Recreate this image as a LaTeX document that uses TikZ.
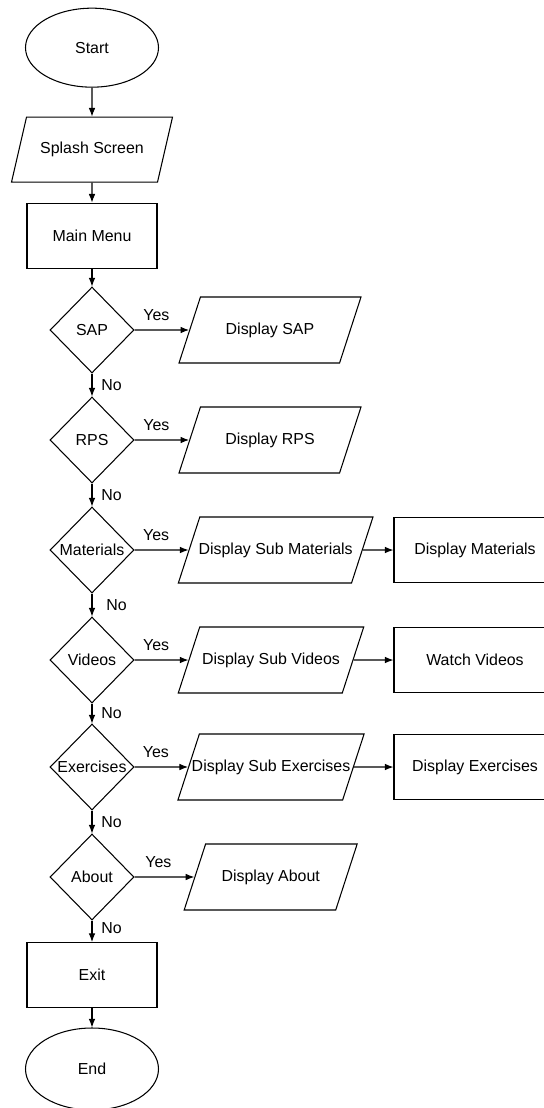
\documentclass[tikz,border=0pt]{standalone}
\usepackage{fontspec}
\setmainfont{Liberation Sans}
\usetikzlibrary{calc}
\usetikzlibrary{shapes.geometric}
\usetikzlibrary{arrows.meta}

\tikzset{
  terminal/.style={draw, ellipse, minimum width=3.99cm, minimum height=2.37cm},
  process/.style={draw, rectangle, minimum width=3.9cm, minimum height=1.95cm},
  io/.style={draw, trapezium, trapezium left angle=72, trapezium right angle=108,
    trapezium stretches body, text height=0.35cm, text depth=0.1cm,
    inner xsep=2pt, inner ysep=0.765cm},
  decision/.style={draw, diamond, minimum width=2.52cm, minimum height=2.58cm, inner sep=0pt},
  flow/.style={-{Latex[length=2.6mm,width=2mm]}},
}

\begin{document}
\begin{tikzpicture}[font=\fontsize{13.6}{16}\selectfont, line width=0.9pt]
  \useasboundingbox (0,0) rectangle (16.32,-33.24);

  % main column
  \node[terminal] (start) at (2.76,-1.43) {Start};
  \node[io, trapezium left angle=77, trapezium right angle=103, inner ysep=0.75cm, minimum width=4.83cm] (splash) at (2.76,-4.49) {Splash Screen};
  \node[process] (menu) at (2.76,-7.07) {Main Menu};

  \node[decision] (sap) at (2.76,-9.9) {\makebox[0pt]{SAP}};
  \node[decision] (rps) at (2.76,-13.2) {\makebox[0pt]{RPS}};
  \node[decision] (mat) at (2.76,-16.5) {\makebox[0pt]{Materials}};
  \node[decision] (vid) at (2.76,-19.8) {\makebox[0pt]{Videos}};
  \node[decision] (exe) at (2.76,-23.01) {\makebox[0pt]{Exercises}};
  \node[decision] (about) at (2.76,-26.31) {\makebox[0pt]{About}};

  \node[process] (exit) at (2.76,-29.25) {Exit};
  \node[terminal, minimum height=2.46cm] (end) at (2.76,-32.07) {End};

  % display screens
  \node[io, minimum width=5.46cm] (dsap) at (8.1,-9.9) {Display SAP};
  \node[io, minimum width=5.46cm] (drps) at (8.1,-13.2) {Display RPS};
  \node[io, inner xsep=-1pt, minimum width=5.79cm] (dsubmat) at (8.27,-16.5) {Display Sub Materials};
  \node[io, minimum width=5.52cm] (dsubvid) at (8.13,-19.8) {Display Sub Videos};
  \node[io, inner xsep=-6.5pt, minimum width=5.52cm] (dsubexe) at (8.13,-23.01) {Display Sub Exercises};
  \node[io, minimum width=5.19cm] (dabout) at (8.12,-26.31) {Display About};

  \node[process, minimum width=4.86cm] (dmat) at (14.25,-16.5) {Display Materials};
  \node[process, minimum width=4.86cm] (wvid) at (14.25,-19.8) {Watch Videos};
  \node[process, minimum width=4.86cm] (dexe) at (14.25,-23.01) {Display Exercises};

  % connectors
  \draw[flow] (start) -- (splash);
  \draw[flow] (splash) -- (menu);
  \draw[flow] (menu) -- (sap);

  \draw[flow] (sap) -- node[above, pos=0.4, yshift=0.15cm] (sapyes) {Yes} (dsap);
  \draw[flow] (sap) -- node[right, xshift=0.15cm] (sapno) {No} (rps);
  \draw[flow] (rps) -- node[above, pos=0.4, yshift=0.15cm] (rpsyes) {Yes} (drps);
  \draw[flow] (rps) -- node[right, xshift=0.15cm] (rpsno) {No} (mat);
  \draw[flow] (mat) -- node[above, pos=0.4, yshift=0.15cm] (matyes) {Yes} (dsubmat);
  \draw[flow] (mat) -- node[right, xshift=0.3cm] (matno) {No} (vid);
  \draw[flow] (vid) -- node[above, pos=0.4, yshift=0.15cm] (vidyes) {Yes} (dsubvid);
  \draw[flow] (vid) -- node[right, xshift=0.15cm] (vidno) {No} (exe);
  \draw[flow] (exe) -- node[above, pos=0.4, yshift=0.15cm] (exeyes) {Yes} (dsubexe);
  \draw[flow] (exe) -- node[right, xshift=0.15cm] (exeno) {No} (about);
  \draw[flow] (about) -- node[above, pos=0.4, yshift=0.15cm] (aboutyes) {Yes} (dabout);
  \draw[flow] (about) -- node[right, xshift=0.15cm, pos=0.35] (aboutno) {No} (exit);

  \draw[flow] (dsubmat) -- (dmat);
  \draw[flow] (dsubvid) -- (wvid);
  \draw[flow] (dsubexe) -- (dexe);

  \draw[flow] (exit) -- (end);
\end{tikzpicture}
\end{document}
